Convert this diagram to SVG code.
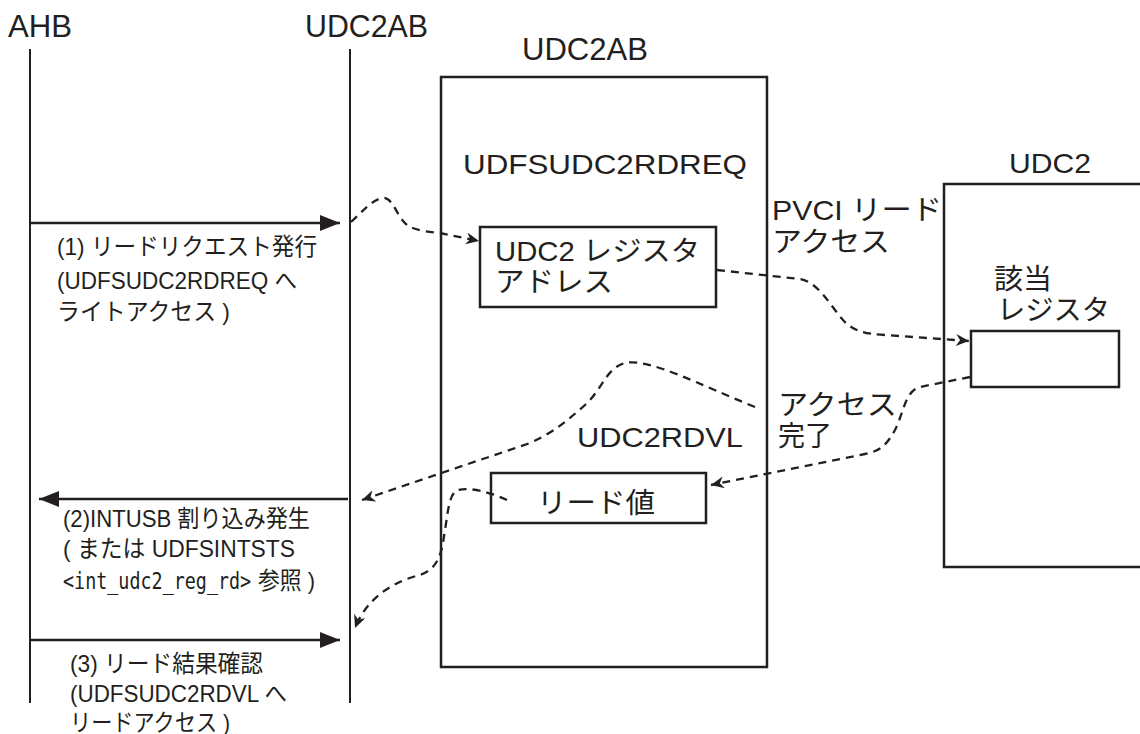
<svg xmlns="http://www.w3.org/2000/svg" width="1140" height="734" viewBox="0 0 1140 734">
<style>
text{font-family:"Liberation Sans","Noto Sans CJK JP",sans-serif;fill:#231f20}
.big{font-size:32px}
.mid{font-size:28px}
.sm{font-size:24px}
.mono{font-family:"DejaVu Sans Mono","Noto Sans CJK JP",monospace;font-size:23px}
.box{fill:#fff;stroke:#231f20;stroke-width:2.5}
.life{stroke:#231f20;stroke-width:2;fill:none}
.msg{stroke:#231f20;stroke-width:2.5;fill:none}
.dash{stroke:#231f20;stroke-width:2.3;fill:none;stroke-dasharray:8 6;marker-end:url(#barb)}
</style>
<defs>
<marker id="barb" markerUnits="userSpaceOnUse" markerWidth="16" markerHeight="14" refX="13" refY="6" orient="auto">
<path d="M0,0 L13,6 L0,12 L4,6 Z" fill="#231f20"/>
</marker>
<marker id="solid" markerUnits="userSpaceOnUse" markerWidth="22" markerHeight="18" refX="20" refY="8" orient="auto">
<path d="M0,0 L20,8 L0,16 Z" fill="#231f20"/>
</marker>
</defs>

<g id="ahb">
<text class="big" x="8" y="37" textLength="64" lengthAdjust="spacingAndGlyphs">AHB</text>
<line class="life" x1="30" y1="49" x2="30" y2="703"/>
</g>

<g id="udc2ab-lifeline">
<text class="big" x="305" y="37" textLength="123" lengthAdjust="spacingAndGlyphs">UDC2AB</text>
<line class="life" x1="350" y1="49" x2="350" y2="703"/>
</g>

<g id="udc2ab-block">
<text class="big" x="522" y="60" textLength="126" lengthAdjust="spacingAndGlyphs">UDC2AB</text>
<rect class="box" x="441" y="77" width="326" height="590"/>
<text class="mid" x="463" y="174" textLength="284" lengthAdjust="spacingAndGlyphs">UDFSUDC2RDREQ</text>
<text class="mid" x="577" y="447" textLength="166" lengthAdjust="spacingAndGlyphs">UDC2RDVL</text>
</g>

<g id="reg-address">
<rect class="box" x="480" y="227" width="236" height="80"/>
<text class="mid" x="495" y="261" textLength="205" lengthAdjust="spacingAndGlyphs">UDC2 レジスタ</text>
<text class="mid" x="495" y="292" textLength="118" lengthAdjust="spacingAndGlyphs">アドレス</text>
</g>

<g id="read-value">
<rect class="box" x="491" y="473" width="215" height="50"/>
<text class="mid" x="537" y="513" textLength="118" lengthAdjust="spacingAndGlyphs">リード値</text>
</g>

<g id="udc2">
<text class="mid" x="1009" y="173" textLength="82" lengthAdjust="spacingAndGlyphs">UDC2</text>
<path class="box" d="M1142,184 L944,184 L944,567 L1142,567"/>
<text class="mid" x="994" y="289" textLength="58" lengthAdjust="spacingAndGlyphs">該当</text>
<text class="mid" x="997" y="320" textLength="113" lengthAdjust="spacingAndGlyphs">レジスタ</text>
</g>

<g id="target-register">
<rect class="box" x="971" y="331" width="148" height="56"/>
</g>

<g id="labels">
<text class="mid" x="772" y="220" textLength="170" lengthAdjust="spacingAndGlyphs">PVCI リード</text>
<text class="mid" x="772" y="252" textLength="118" lengthAdjust="spacingAndGlyphs">アクセス</text>
<text class="mid" x="778" y="415" textLength="119" lengthAdjust="spacingAndGlyphs">アクセス</text>
<text class="mid" x="778" y="446" textLength="54" lengthAdjust="spacingAndGlyphs">完了</text>

<text class="sm" x="57" y="255" textLength="260" lengthAdjust="spacingAndGlyphs">(1) リードリクエスト発行</text>
<text class="sm" x="57" y="289" textLength="240" lengthAdjust="spacingAndGlyphs">(UDFSUDC2RDREQ へ</text>
<text class="sm" x="57" y="320" textLength="173" lengthAdjust="spacingAndGlyphs">ライトアクセス )</text>

<text class="sm" x="63" y="527" textLength="247" lengthAdjust="spacingAndGlyphs">(2)INTUSB 割り込み発生</text>
<text class="sm" x="63" y="557" textLength="232" lengthAdjust="spacingAndGlyphs">( または UDFSINTSTS</text>
<text class="mono" transform="translate(63,589) scale(0.8,1)" x="0" y="0">&lt;int_udc2_reg_rd&gt;</text>
<text class="sm" x="258" y="589" textLength="57" lengthAdjust="spacingAndGlyphs">参照 )</text>

<text class="sm" x="70" y="672" textLength="193" lengthAdjust="spacingAndGlyphs">(3) リード結果確認</text>
<text class="sm" x="70" y="702" textLength="217" lengthAdjust="spacingAndGlyphs">(UDFSUDC2RDVL へ</text>
<text class="sm" x="70" y="731" textLength="160" lengthAdjust="spacingAndGlyphs">リードアクセス )</text>
</g>

<g id="connectors">
<line class="msg" x1="30" y1="223" x2="340" y2="223" marker-end="url(#solid)"/>
<line class="msg" x1="348" y1="499" x2="39" y2="499" marker-end="url(#solid)"/>
<line class="msg" x1="30" y1="640" x2="340" y2="640" marker-end="url(#solid)"/>

<path class="dash" d="M351,222 C362,212 372,200 382,198 C392,196 396,214 404,222 C410,229 420,231 440,233 L479,241"/>
<path class="dash" d="M717,270 L800,279 C818,282 830,305 843,320 C853,331 865,334 885,335 L969,341"/>
<path class="dash" d="M970,377 L920,387 C905,391 904,412 895,430 C886,446 880,451 865,454 L711,485"/>
<path class="dash" d="M755,407 C700,385 650,358 625,363 C606,368 602,390 585,405 C570,418 555,432 530,443 L362,500"/>
<path class="dash" d="M507,500 C490,492 470,487 458,490 C449,493 448,512 445,530 C442,550 440,568 420,575 C398,580 368,595 355,628"/>
</g>
</svg>
